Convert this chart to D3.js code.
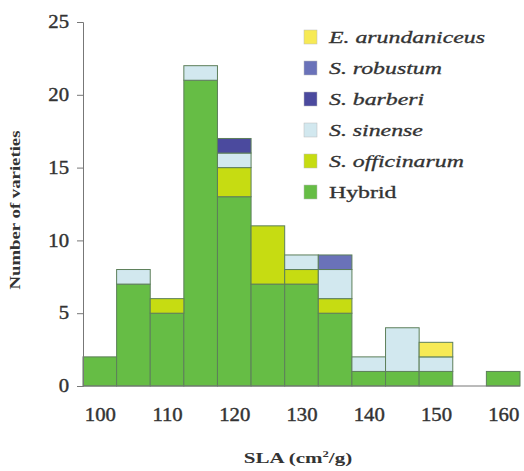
<!DOCTYPE html>
<html>
<head>
<meta charset="utf-8">
<script src="https://cdn.jsdelivr.net/npm/d3@7"></script>
<style>
  body { margin: 0; background: #fff; }
  svg { display: block; }
</style>
</head>
<body>
<div id="chart"></div>
<script>
// bin centres (SLA, cm2/g)
const bins = [100, 105, 110, 115, 120, 125, 130, 135, 140, 145, 150, 155, 160];
// counts per bin for each group (bottom to top)
const hybrid      = [2, 7, 5, 21, 13, 7, 7, 5, 1, 1, 1, 0, 1];
const officinarum = [0, 0, 1, 0, 2, 4, 1, 1, 0, 0, 0, 0, 0];
const sinense     = [0, 1, 0, 1, 1, 0, 1, 2, 1, 3, 1, 0, 0];
const barberi     = [0, 0, 0, 0, 1, 0, 0, 0, 0, 0, 0, 0, 0];
const robustum    = [0, 0, 0, 0, 0, 0, 0, 1, 0, 0, 0, 0, 0];
const arundaniceus= [0, 0, 0, 0, 0, 0, 0, 0, 0, 0, 1, 0, 0];
const yTicks = [0, 5, 10, 15, 20, 25];
const xTicks = [100, 110, 120, 130, 140, 150, 160];

// the source text is drawn wide, stretch it horizontally
function stretch(sel, k) {
  sel.each(function() {
    const len = this.getComputedTextLength();
    d3.select(this).attr("textLength", len * k).attr("lengthAdjust", "spacingAndGlyphs");
  });
}

function draw() {
  const width = 524, height = 471;
  const groups = [
    {key: "hybrid", name: "Hybrid", vals: hybrid, color: "#66bd45", italic: false},
    {key: "officinarum", name: "S. officinarum", vals: officinarum, color: "#c6dc12", italic: true},
    {key: "sinense", name: "S. sinense", vals: sinense, color: "#d2e8ef", italic: true},
    {key: "barberi", name: "S. barberi", vals: barberi, color: "#4b4a9e", italic: true},
    {key: "robustum", name: "S. robustum", vals: robustum, color: "#6a72b9", italic: true},
    {key: "arundaniceus", name: "E. arundaniceus", vals: arundaniceus, color: "#f7ea55", italic: true}
  ];

  const table = bins.map((b, i) => {
    const row = {bin: b};
    groups.forEach(g => row[g.key] = g.vals[i]);
    return row;
  });
  const series = d3.stack().keys(groups.map(g => g.key))(table);

  const x = d3.scaleBand().domain(bins).range([83, 520]).padding(0);
  const y = d3.scaleLinear().domain([0, 25]).range([386, 22]);
  const color = d3.scaleOrdinal().domain(groups.map(g => g.key)).range(groups.map(g => g.color));

  const svg = d3.select("#chart").append("svg")
    .attr("width", width).attr("height", height);

  svg.append("g")
    .selectAll("g")
    .data(series)
    .join("g")
      .attr("fill", d => color(d.key))
    .selectAll("rect")
    .data(d => d.filter(s => s[1] - s[0] > 0))
    .join("rect")
      .attr("x", d => x(d.data.bin))
      .attr("width", x.bandwidth())
      .attr("y", d => y(d[1]))
      .attr("height", d => y(d[0]) - y(d[1]))
      .attr("stroke", "#5d7f5a")
      .attr("stroke-width", 1);

  // y axis
  const yAxis = svg.append("g")
    .attr("transform", "translate(83,0)")
    .call(d3.axisLeft(y).tickValues(yTicks).tickSize(6).tickPadding(8));
  yAxis.select(".domain").attr("stroke", "#777");
  yAxis.selectAll(".tick line").attr("stroke", "#777");
  yAxis.selectAll("text")
    .attr("font-family", "Liberation Serif, serif")
    .attr("font-size", 18)
    .attr("fill", "#333")
    .attr("stroke", "#333").attr("stroke-width", 0.4)
    .call(stretch, 1.15);

  // x axis: labels at bin centres, no ticks
  const xl = d3.scaleLinear().domain([100, 160]).range([x(100) + x.bandwidth() / 2, x(160) + x.bandwidth() / 2]);
  const xAxis = svg.append("g")
    .attr("transform", "translate(0,386)")
    .call(d3.axisBottom(xl).tickValues(xTicks).tickSize(0).tickPadding(22));
  xAxis.select(".domain").attr("stroke", "#777").attr("d", "M83,0H520");
  xAxis.selectAll("text")
    .attr("font-family", "Liberation Serif, serif")
    .attr("font-size", 18)
    .attr("fill", "#333")
    .attr("stroke", "#333").attr("stroke-width", 0.4)
    .call(stretch, 1.15);

  svg.append("text")
    .attr("transform", "translate(20,210) rotate(-90)")
    .attr("text-anchor", "middle")
    .attr("font-family", "Liberation Serif, serif")
    .attr("font-weight", "bold")
    .attr("font-size", 15)
    .attr("fill", "#333")
    .text("Number of varieties")
    .call(stretch, 1.25);

  const xt = svg.append("text")
    .attr("x", 298).attr("y", 463)
    .attr("text-anchor", "middle")
    .attr("font-family", "Liberation Serif, serif")
    .attr("font-weight", "bold")
    .attr("font-size", 15)
    .attr("fill", "#333");
  xt.append("tspan").text("SLA (cm");
  xt.append("tspan").attr("font-size", 9).attr("dy", -6).text("2");
  xt.append("tspan").attr("dy", 6).text("/g)");
  xt.call(stretch, 1.4);

  // legend, top entry is the last stacked group
  const legend = svg.append("g")
    .selectAll("g")
    .data(groups.slice().reverse())
    .join("g")
      .attr("transform", (d, i) => `translate(304,${37 + i * 31})`);
  legend.append("rect")
    .attr("x", 0).attr("y", -7)
    .attr("width", 13).attr("height", 14)
    .attr("fill", d => d.color)
    .attr("stroke", "#bbb").attr("stroke-width", 0.5);
  legend.append("text")
    .attr("x", 25).attr("y", 6)
    .attr("font-family", "Liberation Serif, serif")
    .attr("font-style", d => d.italic ? "italic" : "normal")
    .attr("font-size", 17)
    .attr("fill", "#333")
    .attr("stroke", "#333").attr("stroke-width", 0.3)
    .text(d => d.name)
    .call(stretch, 1.4);
}
draw();
</script>
</body>
</html>
